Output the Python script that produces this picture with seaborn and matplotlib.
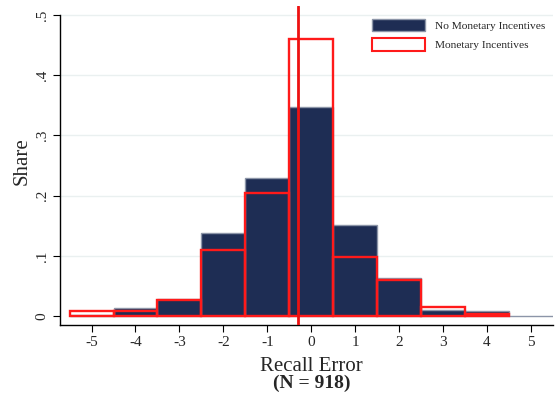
import matplotlib
matplotlib.use("Agg")
import matplotlib.pyplot as plt
import seaborn as sns
import pandas as pd
from matplotlib.patches import Patch

errors = [-5, -4, -3, -2, -1, 0, 1, 2, 3, 4, 5]
no_monetary = [0.002, 0.013, 0.029, 0.138, 0.229, 0.347, 0.151, 0.064, 0.011, 0.008, 0.001]
monetary = [0.008, 0.009, 0.026, 0.110, 0.204, 0.460, 0.099, 0.060, 0.015, 0.004, 0.0]
mean_line = -0.3
yticks = [0, 0.1, 0.2, 0.3, 0.4, 0.5]
ytick_labels = ["0", ".1", ".2", ".3", ".4", ".5"]

sns.set_style("white")
plt.rcParams["font.family"] = ["Liberation Serif", "DejaVu Serif"]

navy = "#1e2d54"
fig = plt.figure(figsize=(5.55, 3.98), dpi=100)
ax = fig.add_axes([0.108, 0.183, 0.888, 0.802])

df1 = pd.DataFrame({"x": errors, "y": no_monetary})
df2 = pd.DataFrame({"x": errors, "y": monetary})
df2 = df2[df2["y"] > 0]
sns.barplot(data=df1, x="x", y="y", native_scale=True, width=1, color=navy,
            edgecolor="#8c95a8", linewidth=1.0, saturation=1, ax=ax, errorbar=None)
sns.barplot(data=df2, x="x", y="y", native_scale=True, width=1, color="#ff1a1a",
            fill=False, linewidth=1.7, saturation=1, ax=ax, errorbar=None)
ax.axvline(mean_line, color="#ee1111", lw=2, zorder=5)

ax.set_xlim(-5.72, 5.5)
ax.set_ylim(-0.015, 0.515)
ax.set_yticks(yticks)
ax.set_yticklabels(ytick_labels, rotation=90, va="center", fontsize=11)
ax.set_xticks(errors)
ax.set_xticklabels([str(e) for e in errors], fontsize=11)
for y in yticks[1:]:
    ax.axhline(y, color="#eaf0f0", lw=1, zorder=0)
ax.set_axisbelow(True)
for s in ["top", "right"]:
    ax.spines[s].set_visible(False)
ax.spines["left"].set_bounds(-0.015, 0.5)
for s in ["left", "bottom"]:
    ax.spines[s].set_color("black")
    ax.spines[s].set_linewidth(1.0)
ax.tick_params(axis="both", which="both", direction="out", length=5, width=0.8,
               left=True, bottom=True, color="black", pad=3)
ax.set_ylabel("Share", fontsize=15)
ax.yaxis.set_label_coords(-0.057, 0.515)
ax.set_xlabel("")
fig.text(0.561, 1 - 371 / 398, "Recall Error", ha="center", va="baseline", fontsize=15)
fig.text(0.561, 1 - 388 / 398, "(N = 918)", ha="center", va="baseline", fontsize=14,
         fontweight="bold")

handles = [Patch(facecolor=navy, edgecolor="#8c95a8", label="No Monetary Incentives"),
           Patch(facecolor="white", edgecolor="#ff1a1a", lw=1.5, label="Monetary Incentives")]
leg = ax.legend(handles=handles, loc="upper left", bbox_to_anchor=(372 / 555, 1 - 19 / 398),
                bbox_transform=fig.transFigure, frameon=False, borderaxespad=0, borderpad=0,
                fontsize=8.2, handlelength=4.65, handleheight=1.3, handletextpad=0.9,
                labelspacing=0.62)

fig.savefig("out.png", dpi=100)
